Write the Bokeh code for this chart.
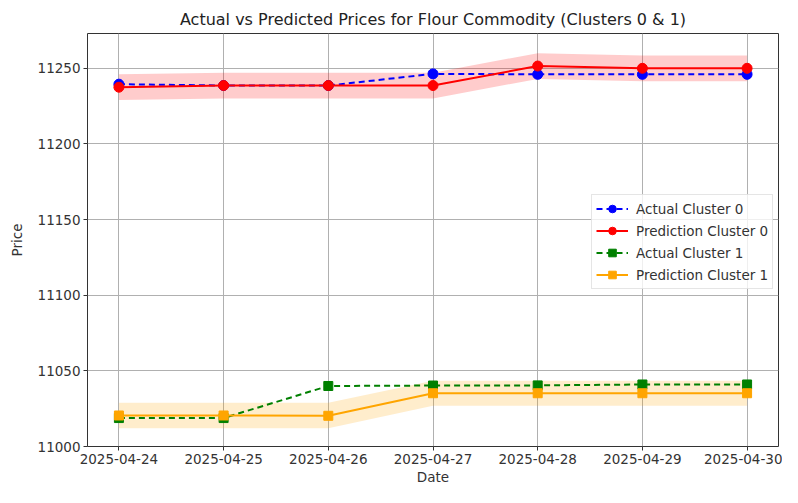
from bokeh.plotting import figure
from bokeh.models import FixedTicker, Legend, LegendItem
from bokeh.embed import file_html
from bokeh.resources import INLINE

dates = ["2025-04-24", "2025-04-25", "2025-04-26", "2025-04-27",
         "2025-04-28", "2025-04-29", "2025-04-30"]
actual0 = [11239.5, 11238.6, 11238.6, 11246.3, 11246.0, 11246.0, 11246.0]
pred0 = [11237.5, 11238.6, 11238.6, 11238.6, 11251.5, 11250.0, 11250.0]
lower0 = [11229.0, 11230.0, 11230.0, 11230.0, 11243.0, 11241.5, 11241.5]
upper0 = [11246.0, 11247.0, 11247.0, 11247.0, 11260.0, 11258.5, 11258.5]
actual1 = [11018.8, 11018.8, 11040.0, 11040.3, 11040.4, 11041.0, 11041.0]
pred1 = [11020.5, 11020.5, 11020.3, 11035.2, 11035.2, 11035.2, 11035.2]
lower1 = [11012.0, 11012.0, 11012.0, 11027.0, 11027.0, 11027.0, 11027.0]
upper1 = [11029.0, 11029.0, 11029.0, 11043.5, 11043.5, 11043.5, 11043.5]
yticks = [11000, 11050, 11100, 11150, 11200, 11250]

x = list(range(len(dates)))
FONT = "DejaVu Sans"

p = figure(width=782, height=487, output_backend="svg", toolbar_location=None,
           x_range=(-0.3, 6.3), y_range=(11000, 11273),
           min_border_left=87, min_border_right=4, min_border_top=33, min_border_bottom=38)

p.title.text = "Actual vs Predicted Prices for Flour Commodity (Clusters 0 & 1)"
p.title.align = "center"
p.title.text_font = FONT
p.title.text_font_size = "16px"
p.title.text_font_style = "normal"
p.title.text_color = "#222222"

p.outline_line_color = "#333333"
p.outline_line_width = 1

for ax in (p.xaxis[0], p.yaxis[0]):
    ax.axis_line_color = None
    ax.major_tick_line_color = "#333333"
    ax.major_tick_out = 4
    ax.major_tick_in = 0
    ax.minor_tick_line_color = None
    ax.major_label_text_font = FONT
    ax.major_label_text_font_size = "13.5px"
    ax.major_label_text_color = "#333333"
    ax.axis_label_text_font = FONT
    ax.axis_label_text_font_size = "13.5px"
    ax.axis_label_text_font_style = "normal"
    ax.axis_label_text_color = "#333333"
    ax.major_label_standoff = 3
    ax.axis_label_standoff = 2

p.xaxis.ticker = FixedTicker(ticks=x)
p.xaxis.major_label_overrides = {i: d for i, d in enumerate(dates)}
p.xaxis.axis_label = "Date"
p.yaxis.ticker = FixedTicker(ticks=yticks)
p.yaxis.axis_label = "Price"
p.yaxis.axis_label_standoff = 10

p.xgrid.ticker = FixedTicker(ticks=x)
p.ygrid.ticker = FixedTicker(ticks=yticks)
p.grid.grid_line_color = "#b0b0b0"
p.grid.grid_line_width = 1

# bands
p.varea(x=x, y1=lower0, y2=upper0, fill_color="red", fill_alpha=0.2)
p.varea(x=x, y1=lower1, y2=upper1, fill_color="orange", fill_alpha=0.2)

l_a0 = p.line(x, actual0, line_color="blue", line_width=2, line_dash="6 4")
m_a0 = p.scatter(x, actual0, marker="circle", size=10, fill_color="blue", line_color="blue")
l_p0 = p.line(x, pred0, line_color="red", line_width=2)
m_p0 = p.scatter(x, pred0, marker="circle", size=10, fill_color="red", line_color="red")
l_a1 = p.line(x, actual1, line_color="green", line_width=2, line_dash="6 4")
m_a1 = p.scatter(x, actual1, marker="square", size=9, fill_color="green", line_color="green")
l_p1 = p.line(x, pred1, line_color="orange", line_width=2)
m_p1 = p.scatter(x, pred1, marker="square", size=9, fill_color="orange", line_color="orange")

legend = Legend(items=[
    LegendItem(label="Actual Cluster 0", renderers=[l_a0, m_a0]),
    LegendItem(label="Prediction Cluster 0", renderers=[l_p0, m_p0]),
    LegendItem(label="Actual Cluster 1", renderers=[l_a1, m_a1]),
    LegendItem(label="Prediction Cluster 1", renderers=[l_p1, m_p1]),
], location=(504, 157))
legend.label_text_font = FONT
legend.label_text_font_size = "13.5px"
legend.label_text_color = "#333333"
legend.label_height = 19
legend.glyph_height = 19
legend.glyph_width = 32
legend.label_standoff = 8
legend.spacing = 3
legend.padding = 4
legend.margin = 0
legend.border_line_color = "#cccccc"
legend.border_line_width = 1
legend.background_fill_alpha = 0.8
p.add_layout(legend, "center")

open("out.html", "w").write(file_html(p, INLINE))
